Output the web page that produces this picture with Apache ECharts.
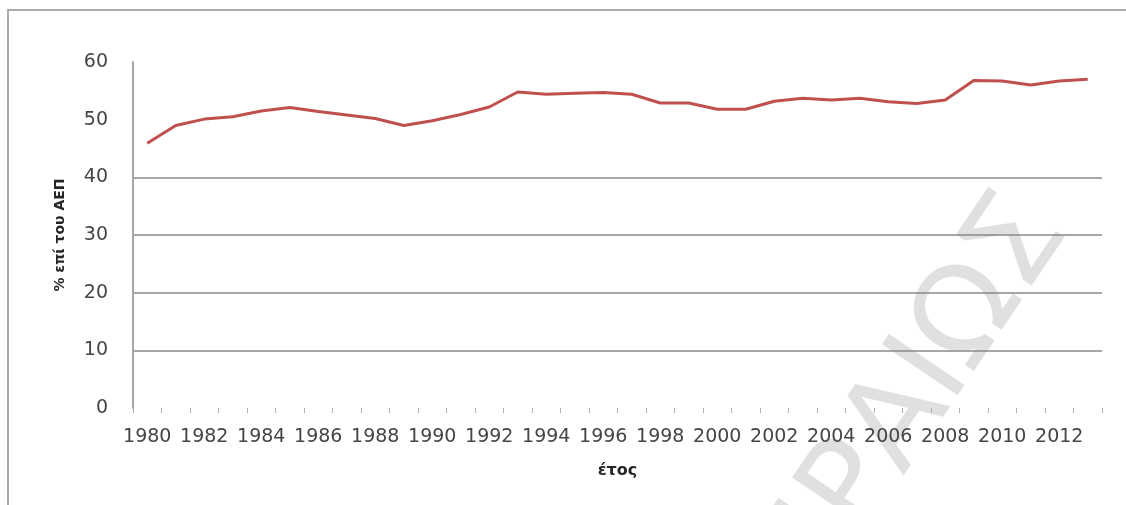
<!DOCTYPE html>
<html>
<head>
<meta charset="utf-8">
<title>% επί του ΑΕΠ</title>
<script src="https://cdn.jsdelivr.net/npm/echarts@6/dist/echarts.min.js"></script>
<style>
    html, body { margin: 0; padding: 0; background: #fff; }
    #chart1 { width: 1126px; height: 505px; }
</style>
</head>
<body>
<div id="chart1"></div>
<script>
// data
var years = ['1980', '1981', '1982', '1983', '1984', '1985', '1986', '1987', '1988', '1989',
    '1990', '1991', '1992', '1993', '1994', '1995', '1996', '1997', '1998', '1999',
    '2000', '2001', '2002', '2003', '2004', '2005', '2006', '2007', '2008', '2009',
    '2010', '2011', '2012', '2013'];
var shareOfGdp = [45.9, 49.0, 50.1, 50.5, 51.5, 52.1, 51.4, 50.8, 50.2, 49.0,
    49.8, 50.9, 52.2, 54.8, 54.4, 54.6, 54.7, 54.4, 52.9, 52.9,
    51.8, 51.8, 53.2, 53.7, 53.4, 53.7, 53.1, 52.8, 53.4, 56.8,
    56.7, 56.0, 56.7, 57.0];
var yMin = 0, yMax = 60, yStep = 10;
var yTitle = '% επί του ΑΕΠ';
var xTitle = 'έτος';
var watermark = 'ΠΕΙΡΑΙΩΣ';

var myChart = echarts.init(document.getElementById('chart1'));

var option = {
    backgroundColor: '#fff',
    animation: false,
    textStyle: { fontFamily: 'DejaVu Sans' },
    graphic: [
        {
            // outer frame
            type: 'rect',
            z: -20,
            shape: { x: 8, y: 10, width: 1200, height: 600 },
            style: { fill: 'none', stroke: '#aaaaaa', lineWidth: 2 }
        },
        {
            type: 'text',
            z: -10,
            x: 1042,
            y: 212,
            rotation: 56 * Math.PI / 180,
            style: {
                text: watermark,
                fill: '#e0e0e0',
                font: '125px "DejaVu Sans"',
                textAlign: 'right',
                textVerticalAlign: 'middle'
            }
        }
    ],
    grid: { left: 133, right: 24, top: 62, bottom: 97 },
    xAxis: {
        type: 'category',
        data: years,
        boundaryGap: true,
        name: xTitle,
        nameLocation: 'middle',
        nameGap: 55,
        nameTextStyle: { color: '#262626', fontSize: 16, fontWeight: 'bold' },
        axisLine: { show: false },
        axisTick: { show: true, interval: 0, length: 5, lineStyle: { color: '#b0b0b0' } },
        axisLabel: { interval: 1, margin: 20, color: '#454545', fontSize: 19 },
        splitLine: { show: false }
    },
    yAxis: {
        type: 'value',
        min: yMin,
        max: yMax,
        interval: yStep,
        name: yTitle,
        nameLocation: 'middle',
        nameGap: 66,
        nameRotate: 90,
        nameTextStyle: { color: '#262626', fontSize: 14, fontWeight: 'bold' },
        axisLine: { show: true, lineStyle: { color: '#a6a6a6', width: 2 } },
        axisTick: { show: false },
        axisLabel: { margin: 25, color: '#454545', fontSize: 19 },
        splitLine: {
            show: true,
            showMinLine: false,
            showMaxLine: false,
            lineStyle: {
                color: ['#8a8a8a', '#8a8a8a', '#8a8a8a', '#8a8a8a', 'rgba(0,0,0,0)'],
                width: 1.5
            }
        }
    },
    series: [
        {
            name: yTitle,
            type: 'line',
            data: shareOfGdp,
            symbol: 'none',
            lineStyle: { color: '#c0504d', width: 3 },
            itemStyle: { color: '#c0504d' }
        }
    ]
};

myChart.setOption(option);
</script>
</body>
</html>
